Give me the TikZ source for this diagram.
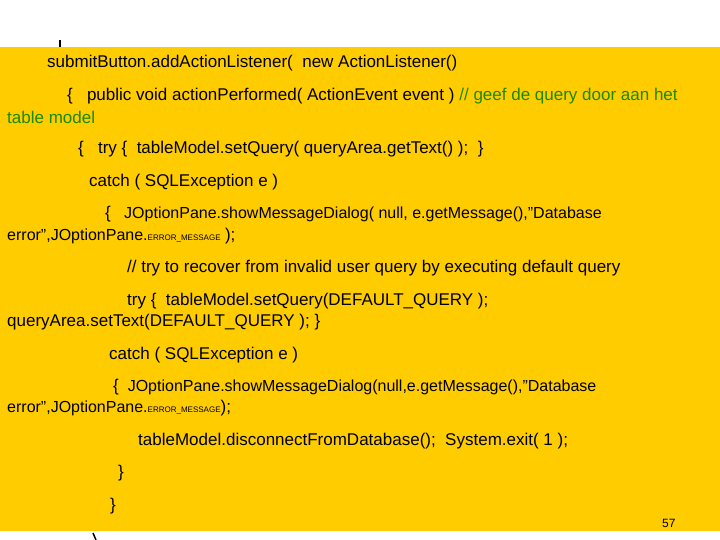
\documentclass[tikz,border=0pt]{standalone}
\usepackage{fontspec}
\setmainfont{Liberation Sans}
\definecolor{bgy}{HTML}{FFCC00}
\definecolor{cgreen}{HTML}{1A8A00}
\begin{document}
\begin{tikzpicture}[x=1pt,y=-1pt,
  code/.style={anchor=west,inner sep=0pt,font=\fontsize{17}{19}\selectfont},
  codes/.style={anchor=west,inner sep=0pt,font=\fontsize{16}{18}\selectfont}]
\useasboundingbox (0,0) rectangle (720,540);
\fill[white] (0,0) rectangle (720,540);
\draw[line width=1.8pt] (60,40) -- (60,48);
\fill[bgy] (0,47) rectangle (720,531);
\draw[line width=1.5pt] (93,533) -- (96,540);
\newcommand{\tinyem}[1]{{\fontsize{8}{9}\selectfont #1}}
\node[code] (l1) at (47,63) {submitButton.addActionListener(\ \ new ActionListener()};
\node[code] (l2) at (67,96) {\{\ \ \ public void actionPerformed( ActionEvent event ) \textcolor{cgreen}{// geef de query door aan het}};
\node[code,text=cgreen] (l2b) at (7,117) {table model};
\node[code] (l3) at (78,149) {\{\ \ \ try \{\ \ tableModel.setQuery( queryArea.getText() );\ \ \}};
\node[code] (l4) at (89,182) {catch ( SQLException e )};
\node[codes] (l5) at (105,214) {{\fontsize{17}{19}\selectfont\{}\ \ \ JOptionPane.showMessageDialog( null, e.getMessage(),"Database};
\node[codes] (l5b) at (7,236) {error",JOptionPane.\tinyem{ERROR\_MESSAGE} {\fontsize{17}{19}\selectfont );}};
\node[code] (l6) at (127,268) {// try to recover from invalid user query by executing default query};
\node[code] (l7) at (127,301) {try \{\ \ tableModel.setQuery(DEFAULT\_QUERY );};
\node[code] (l7b) at (7,322) {queryArea.setText(DEFAULT\_QUERY ); \}};
\node[code] (l8) at (109,355) {catch ( SQLException e )};
\node[codes] (l9) at (113,387) {{\fontsize{17}{19}\selectfont\{}\ \ JOptionPane.showMessageDialog(null,e.getMessage(),"Database};
\node[codes] (l9b) at (7,408) {error",JOptionPane.\tinyem{ERROR\_MESSAGE}{\fontsize{17}{19}\selectfont );}};
\node[code] (l10) at (138,441) {tableModel.disconnectFromDatabase();\ \ System.exit( 1 );};
\node[code] (l11) at (118,473) {\}};
\node[code] (l12) at (110,506) {\}};
\node[anchor=west,inner sep=0pt,font=\fontsize{12}{14}\selectfont] (pg) at (662,523) {57};
\end{tikzpicture}
\end{document}
